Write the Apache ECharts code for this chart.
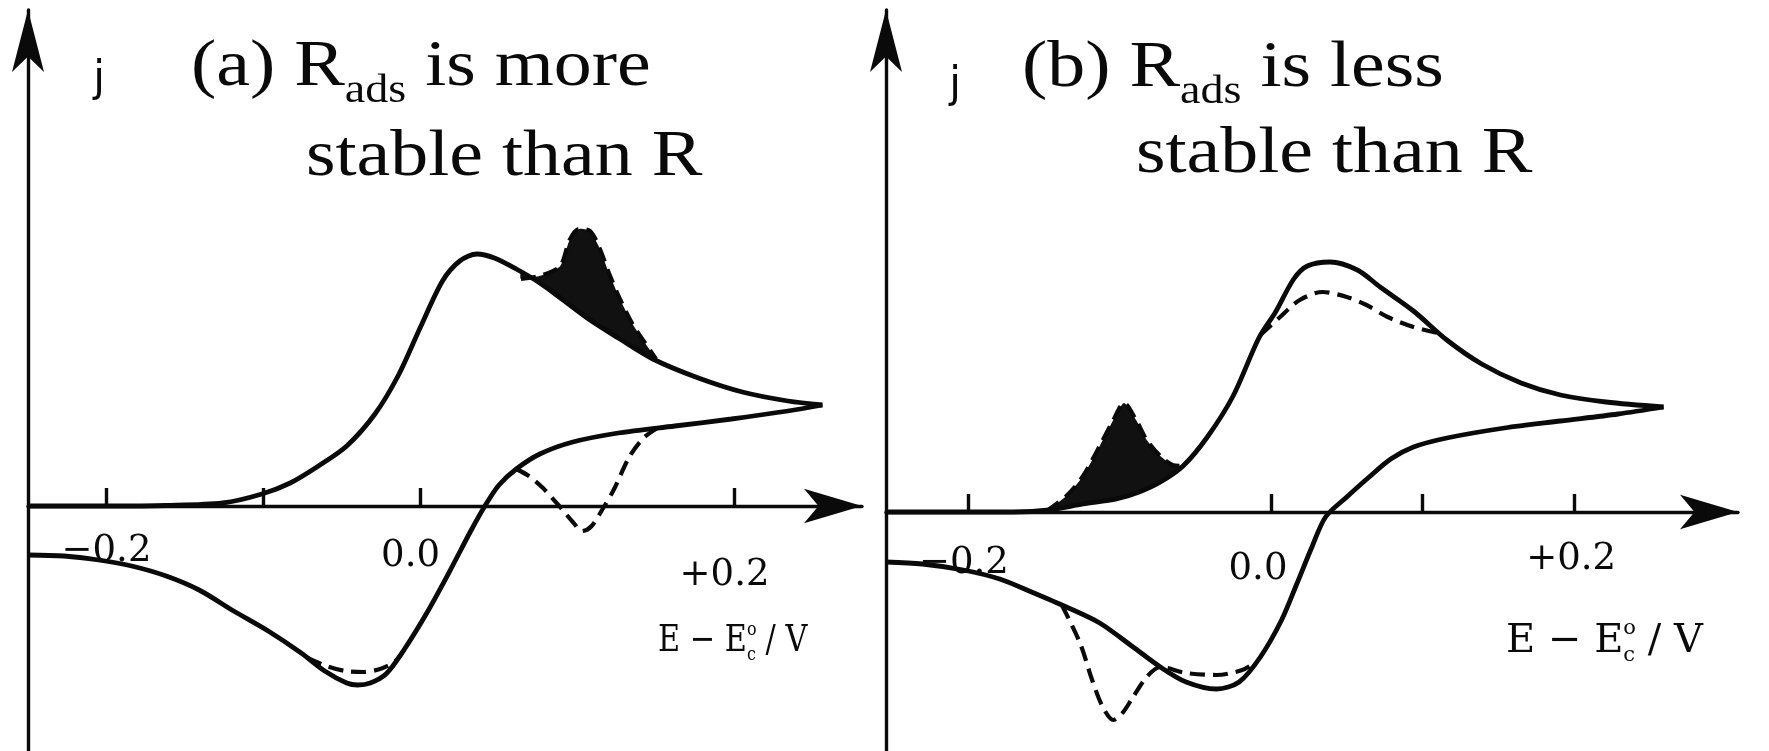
<!DOCTYPE html>
<html>
<head>
<meta charset="utf-8">
<script src="https://cdn.jsdelivr.net/npm/echarts@6/dist/echarts.min.js"></script>
<style>
html,body{margin:0;padding:0;background:#fff;}
#chart{width:1769px;height:751px;}
</style>
</head>
<body>
<div id="chart"></div>
<script>
// ---------- Panel (a): R_ads more stable than R ----------
const aAnodicE = [-0.25, -0.20, -0.162, -0.126, -0.101, -0.083, -0.065, -0.047, -0.029, -0.014, 0.0, 0.014, 0.025, 0.036, 0.047, 0.061, 0.076, 0.090, 0.108, 0.126, 0.148, 0.177, 0.205, 0.234, 0.256];
const aAnodicJ = [0, 0, 0.005, 0.03, 0.12, 0.23, 0.40, 0.60, 0.92, 1.31, 1.79, 2.25, 2.45, 2.52, 2.48, 2.37, 2.23, 2.07, 1.86, 1.68, 1.47, 1.28, 1.14, 1.05, 1.01];
const aCathodicE = [0.256, 0.234, 0.198, 0.162, 0.126, 0.097, 0.076, 0.061, 0.050, 0.041, 0.032, 0.018, 0.004, -0.011, -0.022, -0.032, -0.040, -0.047, -0.061, -0.076, -0.097, -0.119, -0.141, -0.162, -0.184, -0.205, -0.227, -0.25];
const aCathodicJ = [1.01, 0.95, 0.87, 0.80, 0.73, 0.64, 0.52, 0.37, 0.21, 0.0, -0.25, -0.67, -1.07, -1.45, -1.68, -1.77, -1.79, -1.77, -1.65, -1.47, -1.25, -1.05, -0.84, -0.70, -0.60, -0.54, -0.50, -0.49];
// adsorption (dashed, shaded) anodic peak and the solid curve beneath it
const aAdsPeakE = [0.064, 0.078, 0.089, 0.095, 0.101, 0.108, 0.114, 0.120, 0.127, 0.135, 0.143, 0.150];
const aAdsPeakJ = [2.27, 2.31, 2.40, 2.66, 2.77, 2.75, 2.58, 2.33, 2.07, 1.82, 1.63, 1.47];
const aAdsBaseE = [0.150, 0.133, 0.116, 0.099, 0.082, 0.064];
const aAdsBaseJ = [1.46, 1.62, 1.78, 1.96, 2.16, 2.33];
// dashed cathodic desorption dip
const aDipE = [0.061, 0.069, 0.078, 0.090, 0.097, 0.103, 0.109, 0.116, 0.123, 0.133, 0.142, 0.151];
const aDipJ = [0.37, 0.30, 0.18, -0.03, -0.16, -0.25, -0.20, -0.03, 0.16, 0.49, 0.68, 0.78];
// dashed curve near the cathodic minimum
const aMinE = [-0.072, -0.060, -0.048, -0.036, -0.024, -0.016, -0.010];
const aMinJ = [-1.52, -1.60, -1.65, -1.66, -1.62, -1.55, -1.43];
const aTickValues = [-0.2, -0.1, 0.0, 0.2];
const aLabelValues = [-0.2, 0.0, 0.2];
const aLabelTexts = ['\u22120.2', '0.0', '+0.2'];

// ---------- Panel (b): R_ads less stable than R ----------
const bAnodicE = [-0.254, -0.17, -0.146, -0.124, -0.102, -0.087, -0.073, -0.058, -0.042, -0.025, -0.008, 0.003, 0.015, 0.024, 0.039, 0.057, 0.072, 0.094, 0.116, 0.139, 0.165, 0.191, 0.221, 0.259];
const bAnodicJ = [0, 0, 0.02, 0.08, 0.13, 0.20, 0.30, 0.46, 0.75, 1.16, 1.74, 2.00, 2.33, 2.46, 2.50, 2.42, 2.25, 2.01, 1.72, 1.48, 1.29, 1.17, 1.10, 1.05];
const bCathodicE = [0.259, 0.229, 0.191, 0.154, 0.116, 0.094, 0.079, 0.064, 0.050, 0.036, 0.027, 0.017, 0.007, -0.007, -0.021, -0.036, -0.056, -0.073, -0.091, -0.113, -0.135, -0.158, -0.179, -0.203, -0.230, -0.254];
const bCathodicJ = [1.05, 0.98, 0.91, 0.84, 0.74, 0.65, 0.53, 0.34, 0.15, -0.05, -0.35, -0.72, -1.08, -1.45, -1.70, -1.77, -1.70, -1.55, -1.35, -1.11, -0.95, -0.80, -0.67, -0.58, -0.52, -0.50];
// dashed (lower) main anodic peak
const bDashE = [-0.007, 0.006, 0.019, 0.034, 0.050, 0.063, 0.077, 0.094, 0.110];
const bDashJ = [1.77, 1.95, 2.12, 2.20, 2.15, 2.07, 1.95, 1.85, 1.79];
// adsorption (dashed, shaded) pre-peak and the solid curve beneath it
const bAdsPeakE = [-0.148, -0.135, -0.124, -0.113, -0.104, -0.097, -0.089, -0.082, -0.073, -0.065, -0.058];
const bAdsPeakJ = [0.01, 0.16, 0.36, 0.66, 0.92, 1.09, 0.92, 0.72, 0.56, 0.47, 0.46];
const bAdsBaseE = [-0.058, -0.073, -0.087, -0.102, -0.124, -0.148];
const bAdsBaseJ = [0.46, 0.30, 0.20, 0.13, 0.08, 0.01];
// dashed cathodic dip
const bDipE = [-0.138, -0.126, -0.118, -0.111, -0.104, -0.098, -0.091, -0.082, -0.073, -0.056, -0.036, -0.019, -0.010];
const bDipJ = [-0.93, -1.31, -1.68, -1.95, -2.08, -2.01, -1.85, -1.65, -1.55, -1.61, -1.63, -1.58, -1.50];
const bTickValues = [-0.2, 0.0, 0.1, 0.2];
const bLabelValues = [-0.2, 0.0, 0.2];
const bLabelTexts = ['\u22120.2', '0.0', '+0.2'];

// ---------- helpers ----------
const INK = '#0a0a0a';
const pairs = (E, J) => E.map((e, i) => [e, J[i]]);

function lineSeries(idx, E, J, dashed) {
  return {
    type: 'line', xAxisIndex: idx, yAxisIndex: idx,
    data: pairs(E, J), showSymbol: false, smooth: 0.3, silent: true,
    clip: false, z: dashed ? 5 : 4,
    lineStyle: { color: INK, width: dashed ? 4.2 : 4.8, type: dashed ? [15, 8] : 'solid', cap: 'butt' }
  };
}
function shadeSeries(idx, topE, topJ, baseE, baseJ) {
  return {
    type: 'custom', xAxisIndex: idx, yAxisIndex: idx, silent: true, z: 3, clip: false,
    data: [[topE[0], topJ[0]]],
    renderItem: function (params, api) {
      const pts = pairs(topE, topJ).concat(pairs(baseE, baseJ)).map(p => api.coord(p));
      return { type: 'polygon', shape: { points: pts, smooth: 0.2 }, style: { fill: '#111' } };
    }
  };
}
function xAxisDef(idx, min, max, ticks, labelVals, labelTexts, richDefs) {
  const rich = {};
  richDefs.forEach((r, i) => {
    rich['t' + i] = { fontFamily: 'DejaVu Serif', fontSize: 37, color: INK, lineHeight: r.lh, padding: [0, r.pr, 0, r.pl] };
  });
  return {
    gridIndex: idx, type: 'value', min: min, max: max, position: 'bottom',
    axisLine: { show: true, onZero: false, lineStyle: { color: INK, width: 3.4 },
      symbol: ['none', 'arrow'], symbolSize: [26, 58], symbolOffset: [0, 0] },
    axisTick: { show: true, inside: true, length: 18, lineStyle: { color: INK, width: 3.4 }, customValues: ticks },
    axisLabel: { show: true, margin: 0, customValues: labelVals, color: INK,
      fontFamily: 'DejaVu Serif', fontSize: 37,
      formatter: function (v) {
        const i = labelVals.findIndex(t => Math.abs(t - v) < 1e-9);
        return i < 0 ? '' : '{t' + i + '|' + labelTexts[i] + '}';
      }, rich: rich },
    splitLine: { show: false }
  };
}
function hiddenX(idx, min, max) {
  return { gridIndex: idx, type: 'value', min: min, max: max, show: false, splitLine: { show: false } };
}
function hiddenY(idx, min, max) {
  return { gridIndex: idx, type: 'value', min: min, max: max, show: false, splitLine: { show: false } };
}
function yAxisDef(idx, min, max) {
  return {
    gridIndex: idx, type: 'value', min: min, max: max, position: 'left',
    axisLine: { show: true, onZero: false, lineStyle: { color: INK, width: 3.4 },
      symbol: ['none', 'arrow'], symbolSize: [24, 62], symbolOffset: [0, 0] },
    axisTick: { show: false }, axisLabel: { show: false }, splitLine: { show: false }
  };
}

// text measuring for the composite titles
const mctx = document.createElement('canvas').getContext('2d');
function measure(text, size, family) { mctx.font = size + 'px "' + family + '"'; return mctx.measureText(text).width; }
function textGroup(x, baseline, scaleX, parts) {
  const children = [];
  let cx = 0;
  parts.forEach(p => {
    const w = measure(p.text, p.size, p.family);
    children.push({
      type: 'text', x: cx, y: (p.dy || 0) - 0.34 * p.size,
      style: { text: p.text, fontSize: p.size, fontFamily: p.family, fill: INK, align: 'left', verticalAlign: 'middle' }
    });
    if (!p.stack) cx += w;
  });
  return { type: 'group', x: x, y: baseline, scaleX: scaleX, silent: true, children: children };
}
const SERIF = 'Liberation Serif';
const LAB = 'DejaVu Serif';
function axisName(x, baseline, size, scaleX) {
  const s = size / 40;
  return textGroup(x, baseline, scaleX, [
    { text: 'E \u2212 E', size: size, family: LAB },
    { text: 'o', size: 21 * s, family: LAB, dy: -19 * s, stack: true },
    { text: 'c', size: 21 * s, family: LAB, dy: 8 * s },
    { text: ' / V', size: size, family: LAB }
  ]);
}

// layout (pixels)
const A_LEFT = 28, A_RIGHT = 862, A_ZERO = 506;
const B_LEFT = 886, B_RIGHT = 1738, B_ZERO = 512;
const TOP = 10, BOTTOM = 751;
const A_XMIN = -0.25, A_XMAX = 0.2812;
const B_XMIN = -0.254, B_XMAX = 0.3081;

const chart = echarts.init(document.getElementById('chart'), null, { renderer: 'canvas' });
chart.setOption({
  animation: false,
  backgroundColor: '#ffffff',
  grid: [
    { left: A_LEFT, top: TOP, width: A_RIGHT - A_LEFT, height: A_ZERO - TOP, containLabel: false, outerBoundsMode: 'none' },
    { left: B_LEFT, top: TOP, width: B_RIGHT - B_LEFT, height: B_ZERO - TOP, containLabel: false, outerBoundsMode: 'none' },
    { left: A_LEFT, top: TOP, width: A_RIGHT - A_LEFT, height: BOTTOM - TOP, containLabel: false, outerBoundsMode: 'none' },
    { left: B_LEFT, top: TOP, width: B_RIGHT - B_LEFT, height: BOTTOM - TOP, containLabel: false, outerBoundsMode: 'none' }
  ],
  xAxis: [
    xAxisDef(0, A_XMIN, A_XMAX, aTickValues, aLabelValues, aLabelTexts,
      [{ lh: 91, pr: 0, pl: 0 }, { lh: 100, pr: 20, pl: 0 }, { lh: 139, pr: 20, pl: 0 }]),
    xAxisDef(1, B_XMIN, B_XMAX, bTickValues, bLabelValues, bLabelTexts,
      [{ lh: 102, pr: 8, pl: 0 }, { lh: 114, pr: 26, pl: 0 }, { lh: 94, pr: 6, pl: 0 }]),
    hiddenX(2, A_XMIN, A_XMAX),
    hiddenX(3, B_XMIN, B_XMAX)
  ],
  yAxis: [
    hiddenY(0, 0, 4.96),
    hiddenY(1, 0, 5.02),
    yAxisDef(2, -2.45, 4.96),
    yAxisDef(3, -2.39, 5.02)
  ],
  series: [
    shadeSeries(0, aAdsPeakE, aAdsPeakJ, aAdsBaseE, aAdsBaseJ),
    lineSeries(0, aAnodicE, aAnodicJ, false),
    lineSeries(0, aCathodicE, aCathodicJ, false),
    lineSeries(0, aAdsPeakE, aAdsPeakJ, true),
    lineSeries(0, aDipE, aDipJ, true),
    lineSeries(0, aMinE, aMinJ, true),
    shadeSeries(1, bAdsPeakE, bAdsPeakJ, bAdsBaseE, bAdsBaseJ),
    lineSeries(1, bAnodicE, bAnodicJ, false),
    lineSeries(1, bCathodicE, bCathodicJ, false),
    lineSeries(1, bDashE, bDashJ, true),
    lineSeries(1, bAdsPeakE, bAdsPeakJ, true),
    lineSeries(1, bDipE, bDipJ, true)
  ],
  graphic: [
    textGroup(191, 90, 1.15, [
      { text: '(a) R', size: 66, family: SERIF },
      { text: 'ads', size: 40, family: SERIF, dy: 15 },
      { text: ' is more', size: 66, family: SERIF }
    ]),
    textGroup(306, 180, 1.15, [{ text: 'stable than R', size: 66, family: SERIF }]),
    textGroup(1022, 91, 1.15, [
      { text: '(b) R', size: 66, family: SERIF },
      { text: 'ads', size: 40, family: SERIF, dy: 15 },
      { text: ' is less', size: 66, family: SERIF }
    ]),
    textGroup(1136, 177, 1.15, [{ text: 'stable than R', size: 66, family: SERIF }]),
    { type: 'text', x: 99, y: 80, silent: true,
      style: { text: 'j', fontSize: 42, fontFamily: 'DejaVu Sans', fill: INK, align: 'center', verticalAlign: 'middle' } },
    { type: 'text', x: 955, y: 86, silent: true,
      style: { text: 'j', fontSize: 42, fontFamily: 'DejaVu Sans', fill: INK, align: 'center', verticalAlign: 'middle' } },
    axisName(658, 654, 37, 0.82),
    axisName(1506, 655, 40, 1.0)
  ]
});
</script>
</body>
</html>
